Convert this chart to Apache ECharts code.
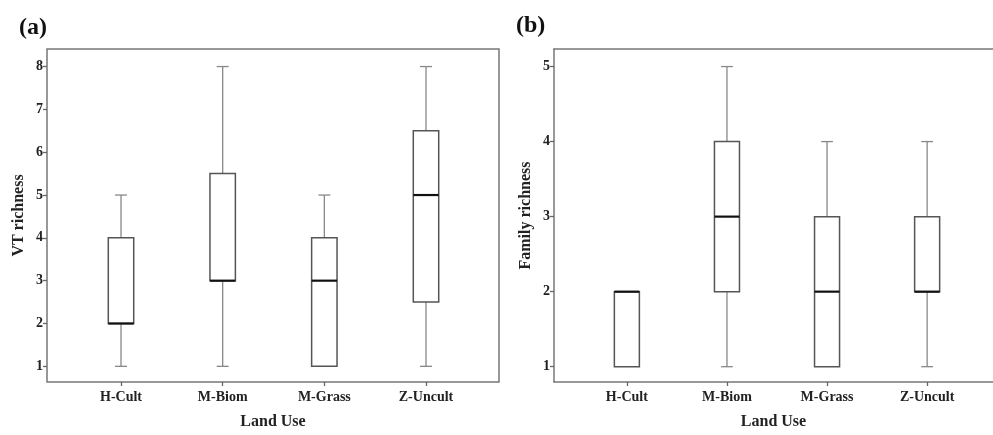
<!DOCTYPE html>
<html>
<head>
<meta charset="utf-8">
<script src="https://cdn.jsdelivr.net/npm/echarts@6/dist/echarts.min.js"></script>
<style>
html,body{margin:0;padding:0;background:#fff;}
#chart{width:993px;height:435px;}
</style>
</head>
<body>
<div id="chart"></div>
<script>
// Data
const categories = ['H-Cult', 'M-Biom', 'M-Grass', 'Z-Uncult'];
// Panel (a): VT richness
const vtMin    = [1, 1, 1, 1];
const vtQ1     = [2, 3, 1, 2.5];
const vtMedian = [2, 3, 3, 5];
const vtQ3     = [4, 5.5, 4, 6.5];
const vtMax    = [5, 8, 5, 8];
const vtTicks  = [1, 2, 3, 4, 5, 6, 7, 8];
// Panel (b): Family richness
const famMin    = [1, 1, 1, 1];
const famQ1     = [1, 2, 1, 2];
const famMedian = [2, 3, 2, 2];
const famQ3     = [2, 4, 3, 3];
const famMax    = [2, 5, 4, 4];
const famTicks  = [1, 2, 3, 4, 5];
const catPositions = [1, 2, 3, 4];

function buildData(mn, q1, md, q3, mx) {
  return categories.map((c, i) => [catPositions[i], mn[i], q1[i], md[i], q3[i], mx[i]]);
}

const FONT = '"Liberation Serif", "Times New Roman", serif';
const BOX_COLOR = '#555';
const WHISKER_COLOR = '#888';
const MEDIAN_COLOR = '#111';
const FRAME = {color: '#777', width: 1.5};

function renderBox(params, api) {
  const x = api.value(0);
  const pMin = api.coord([x, api.value(1)]);
  const pQ1 = api.coord([x, api.value(2)]);
  const pMed = api.coord([x, api.value(3)]);
  const pQ3 = api.coord([x, api.value(4)]);
  const pMax = api.coord([x, api.value(5)]);
  const bw = api.size([1, 0])[0] * 0.25;
  const cw = bw * 0.47;
  const cx = pMed[0];
  const children = [];
  if (api.value(5) > api.value(4)) {
    children.push({type: 'line', shape: {x1: cx, y1: pQ3[1], x2: cx, y2: pMax[1]}, style: {stroke: WHISKER_COLOR, lineWidth: 1.3}});
    children.push({type: 'line', shape: {x1: cx - cw / 2, y1: pMax[1], x2: cx + cw / 2, y2: pMax[1]}, style: {stroke: WHISKER_COLOR, lineWidth: 1.3}});
  }
  if (api.value(1) < api.value(2)) {
    children.push({type: 'line', shape: {x1: cx, y1: pQ1[1], x2: cx, y2: pMin[1]}, style: {stroke: WHISKER_COLOR, lineWidth: 1.3}});
    children.push({type: 'line', shape: {x1: cx - cw / 2, y1: pMin[1], x2: cx + cw / 2, y2: pMin[1]}, style: {stroke: WHISKER_COLOR, lineWidth: 1.3}});
  }
  children.push({type: 'rect', shape: {x: cx - bw / 2, y: pQ3[1], width: bw, height: pQ1[1] - pQ3[1]}, style: {fill: '#fff', stroke: BOX_COLOR, lineWidth: 1.5}});
  children.push({type: 'line', shape: {x1: cx - bw / 2, y1: pMed[1], x2: cx + bw / 2, y2: pMed[1]}, style: {stroke: MEDIAN_COLOR, lineWidth: 2.2}});
  return {type: 'group', children: children};
}

function xAxisDef(gridIndex, max, showLine) {
  return {
    type: 'value', gridIndex: gridIndex, min: 0.272, max: max,
    axisLine: {show: showLine, lineStyle: FRAME},
    splitLine: {show: false},
    axisTick: {show: true, length: 4, customValues: catPositions, lineStyle: {color: '#666', width: 1.3}},
    axisLabel: {customValues: catPositions, formatter: v => categories[Math.round(v) - 1] || '', fontFamily: FONT, fontWeight: 'bold', fontSize: 14, color: '#222', margin: 8},
    name: 'Land Use', nameLocation: 'middle', nameGap: 32,
    nameTextStyle: {fontFamily: FONT, fontWeight: 'bold', fontSize: 16, color: '#222'}
  };
}

function yAxisDef(gridIndex, min, max, ticks, name, gap, showLine) {
  return {
    type: 'value', gridIndex: gridIndex, min: min, max: max,
    axisLine: {show: showLine, lineStyle: FRAME},
    splitLine: {show: false},
    axisTick: {show: true, length: 4, customValues: ticks, lineStyle: {color: '#666', width: 1.3}},
    axisLabel: {customValues: ticks, fontFamily: FONT, fontWeight: 'bold', fontSize: 14, color: '#222', margin: 4},
    name: name, nameLocation: 'middle', nameRotate: 90, nameGap: gap,
    nameTextStyle: {fontFamily: FONT, fontWeight: 'bold', fontSize: 16, color: '#222'}
  };
}

const chart = echarts.init(document.getElementById('chart'), null, {renderer: 'canvas'});
chart.setOption({
  backgroundColor: '#fff',
  animation: false,
  title: [
    {text: '(a)', left: 14, top: 11, textStyle: {fontFamily: FONT, fontWeight: 'bold', fontSize: 24, color: '#111'}},
    {text: '(b)', left: 511, top: 9, textStyle: {fontFamily: FONT, fontWeight: 'bold', fontSize: 24, color: '#111'}}
  ],
  grid: [
    {left: 47, top: 49, width: 452, height: 334, show: true, borderColor: '#777', borderWidth: 1.5, backgroundColor: 'transparent'},
    {left: 554, top: 49, width: 439, height: 336, show: false}
  ],
  xAxis: [
    xAxisDef(0, 4.718, false),
    xAxisDef(1, 4.658, true),
    {type: 'value', gridIndex: 1, position: 'top', min: 0.272, max: 4.658,
     axisLine: {show: true, lineStyle: FRAME}, axisTick: {show: false}, axisLabel: {show: false}, splitLine: {show: false}}
  ],
  yAxis: [
    yAxisDef(0, 0.634, 8.41, vtTicks, 'VT richness', 20, false),
    yAxisDef(1, 0.796, 5.234, famTicks, 'Family richness', 20, true)
  ],
  series: [
    {type: 'custom', xAxisIndex: 0, yAxisIndex: 0, renderItem: renderBox, encode: {x: 0, y: [1, 2, 3, 4, 5]}, data: buildData(vtMin, vtQ1, vtMedian, vtQ3, vtMax)},
    {type: 'custom', xAxisIndex: 1, yAxisIndex: 1, renderItem: renderBox, encode: {x: 0, y: [1, 2, 3, 4, 5]}, data: buildData(famMin, famQ1, famMedian, famQ3, famMax)}
  ]
});
</script>
</body>
</html>
